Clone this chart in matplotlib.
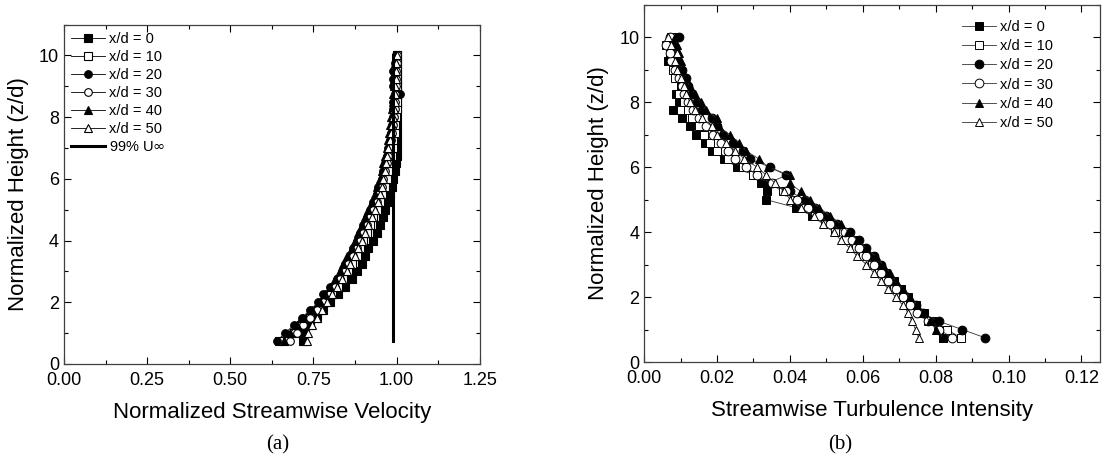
import matplotlib
matplotlib.use('Agg')
import matplotlib.pyplot as plt
from matplotlib.ticker import MultipleLocator

plt.rcParams['font.family'] = ['Liberation Sans', 'DejaVu Sans']

# heights z/d (same for every profile)
z = [0.75, 1.0, 1.25, 1.5, 1.75, 2.0, 2.25, 2.5, 2.75, 3.0, 3.25, 3.5, 3.75, 4.0,
     4.25, 4.5, 4.75, 5.0, 5.25, 5.5, 5.75, 6.0, 6.25, 6.5, 6.75, 7.0, 7.25, 7.5,
     7.75, 8.0, 8.25, 8.5, 8.75, 9.0, 9.25, 9.5, 9.75, 10.0]

labels = ['x/d = 0', 'x/d = 10', 'x/d = 20', 'x/d = 30', 'x/d = 40', 'x/d = 50']

# (a) normalized streamwise velocity
u_0 = [0.72, 0.72, 0.74, 0.76, 0.78, 0.80, 0.825, 0.845, 0.865, 0.88, 0.895, 0.905, 0.915, 0.93,
       0.94, 0.95, 0.96, 0.965, 0.975, 0.98, 0.985, 0.99, 0.995, 0.998, 1.0, 1.0, 1.0, 1.0,
       1.0, 1.0, 1.0, 1.0, 1.0, 1.0, 1.0, 1.0, 1.0, 1.0]
u_10 = [0.645, 0.69, 0.715, 0.74, 0.765, 0.785, 0.805, 0.825, 0.84, 0.855, 0.865, 0.88, 0.89, 0.90,
        0.91, 0.92, 0.93, 0.94, 0.95, 0.955, 0.965, 0.97, 0.975, 0.98, 0.985, 0.99, 0.99, 0.995,
        0.995, 0.998, 1.0, 1.0, 1.0, 1.0, 1.0, 1.0, 1.0, 1.0]
u_20 = [0.64, 0.665, 0.69, 0.715, 0.74, 0.765, 0.78, 0.80, 0.82, 0.835, 0.845, 0.86, 0.87, 0.88,
        0.89, 0.90, 0.91, 0.92, 0.93, 0.94, 0.945, 0.955, 0.96, 0.965, 0.97, 0.975, 0.98, 0.982,
        0.985, 0.988, 0.99, 0.99, 1.01, 0.99, 0.99, 0.99, 0.995, 0.998]
u_30 = [0.68, 0.70, 0.72, 0.74, 0.76, 0.78, 0.80, 0.815, 0.83, 0.845, 0.855, 0.87, 0.88, 0.89,
        0.90, 0.91, 0.92, 0.93, 0.94, 0.945, 0.955, 0.96, 0.965, 0.97, 0.975, 0.98, 0.984, 0.987,
        0.99, 0.992, 0.994, 0.995, 0.996, 0.997, 0.998, 0.999, 1.0, 1.0]
u_40 = [0.66, 0.68, 0.70, 0.72, 0.745, 0.77, 0.785, 0.80, 0.815, 0.83, 0.84, 0.85, 0.865, 0.875,
        0.885, 0.895, 0.905, 0.915, 0.925, 0.935, 0.94, 0.95, 0.955, 0.96, 0.965, 0.97, 0.975, 0.978,
        0.981, 0.984, 0.986, 0.988, 0.99, 0.992, 0.993, 0.995, 0.996, 0.997]
u_50 = [0.73, 0.735, 0.745, 0.76, 0.775, 0.79, 0.805, 0.82, 0.835, 0.85, 0.86, 0.875, 0.885, 0.895,
        0.905, 0.915, 0.925, 0.935, 0.945, 0.95, 0.955, 0.96, 0.965, 0.968, 0.97, 0.975, 0.98, 0.983,
        0.986, 0.99, 0.992, 0.994, 0.995, 0.996, 0.997, 0.998, 0.999, 1.0]
u99 = 0.99
u99_z = [0.75, 10.0]

# (b) streamwise turbulence intensity
ti_0 = [0.082, 0.0805, 0.079, 0.0767, 0.0745, 0.0725, 0.0705, 0.0685, 0.066, 0.064, 0.062, 0.060, 0.058, 0.0555,
        0.050, 0.046, 0.0417, 0.0334, 0.0336, 0.032, 0.030, 0.0255, 0.022, 0.0186, 0.0166, 0.0143, 0.0125, 0.0103,
        0.008, 0.0095, 0.0088, 0.010, 0.0095, 0.0085, 0.0066, 0.0075, 0.007, 0.008]
ti_10 = [0.087, 0.083, 0.078, 0.0755, 0.073, 0.071, 0.0685, 0.0665, 0.0645, 0.0625, 0.060, 0.058, 0.0555, 0.0525,
         0.0495, 0.047, 0.044, 0.0415, 0.038, 0.0345, 0.030, 0.027, 0.023, 0.020, 0.018, 0.0165, 0.015, 0.013,
         0.012, 0.011, 0.0095, 0.0105, 0.0085, 0.008, 0.0075, 0.007, 0.006, 0.0075]
ti_20 = [0.0935, 0.0873, 0.081, 0.0765, 0.0745, 0.072, 0.070, 0.068, 0.0665, 0.065, 0.063, 0.061, 0.059, 0.0565,
         0.053, 0.050, 0.047, 0.044, 0.040, 0.034, 0.039, 0.0345, 0.029, 0.027, 0.0245, 0.0215, 0.020, 0.0185,
         0.016, 0.0145, 0.013, 0.012, 0.0115, 0.0105, 0.009, 0.0085, 0.008, 0.0095]
ti_30 = [0.0845, 0.081, 0.078, 0.075, 0.073, 0.071, 0.069, 0.067, 0.065, 0.063, 0.061, 0.059, 0.057, 0.055,
         0.051, 0.048, 0.045, 0.042, 0.039, 0.035, 0.031, 0.028, 0.025, 0.023, 0.021, 0.019, 0.017, 0.015,
         0.0135, 0.012, 0.011, 0.0105, 0.0095, 0.0085, 0.0075, 0.007, 0.006, 0.007]
ti_40 = [0.082, 0.080, 0.0785, 0.0765, 0.075, 0.073, 0.071, 0.069, 0.0675, 0.0655, 0.0635, 0.061, 0.0585, 0.056,
         0.054, 0.051, 0.048, 0.0455, 0.043, 0.040, 0.040, 0.034, 0.0315, 0.028, 0.026, 0.0235, 0.0205, 0.020,
         0.017, 0.0155, 0.014, 0.0125, 0.0115, 0.0105, 0.010, 0.0095, 0.009, 0.0085]
ti_50 = [0.0753, 0.0745, 0.0735, 0.0725, 0.071, 0.069, 0.067, 0.065, 0.063, 0.061, 0.0585, 0.0565, 0.054, 0.052,
         0.049, 0.0465, 0.043, 0.040, 0.0385, 0.036, 0.0335, 0.031, 0.0275, 0.025, 0.0225, 0.020, 0.0185, 0.016,
         0.014, 0.0125, 0.0115, 0.011, 0.010, 0.009, 0.0085, 0.009, 0.0075, 0.0065]

markers = ['s', 's', 'o', 'o', '^', '^']
faces = ['black', 'white', 'black', 'white', 'black', 'white']


def style_axes(ax, xmax, xmaj, xmin, fmt):
    ax.set_xlim(0, xmax)
    ax.set_ylim(0, 11)
    ax.xaxis.set_major_locator(MultipleLocator(xmaj))
    ax.xaxis.set_minor_locator(MultipleLocator(xmin))
    ax.yaxis.set_major_locator(MultipleLocator(2))
    ax.yaxis.set_minor_locator(MultipleLocator(1))
    ax.xaxis.set_major_formatter(plt.FormatStrFormatter(fmt))
    ax.tick_params(which='both', direction='in', top=True, right=True, labelsize=13, width=0.8)
    ax.tick_params(which='major', length=5)
    ax.tick_params(which='minor', length=3)
    ax.tick_params(axis='x', pad=6)
    for s in ax.spines.values():
        s.set_linewidth(0.9)
        s.set_color('0.25')
    ax.set_ylabel('Normalized Height (z/d)', fontsize=16)


fig = plt.figure(figsize=(11.03, 4.63), dpi=100)

# panel (a)
ax1 = fig.add_axes([0.058, 0.214, 0.377, 0.733])
for vals, m, fc, lab in zip([u_0, u_10, u_20, u_30, u_40, u_50], markers, faces, labels):
    ax1.plot(vals, z, color='black', lw=0.6, marker=m, ms=5.5, mfc=fc, mec='black', mew=0.8, label=lab)
ax1.plot([u99, u99], u99_z, color='black', lw=2.2, label='99% U$\\infty$')
style_axes(ax1, 1.25, 0.25, 0.125, '%.2f')
ax1.set_xlabel('Normalized Streamwise Velocity', fontsize=16, labelpad=9)
ax1.yaxis.labelpad = 7
ax1.legend(loc='upper left', frameon=False, fontsize=10.5, handlelength=2.3, labelspacing=0.28,
           handletextpad=0.3, borderaxespad=0.3, borderpad=0.2)

# panel (b)
ax2 = fig.add_axes([0.584, 0.218, 0.413, 0.772])
for vals, m, fc, lab in zip([ti_0, ti_10, ti_20, ti_30, ti_40, ti_50], markers, faces, labels):
    ax2.plot(vals, z, color='0.2', lw=0.6, marker=m, ms=6.3, mfc=fc, mec='black', mew=0.7, label=lab)
style_axes(ax2, 0.125, 0.02, 0.01, '%.2f')
ax2.set_xlabel('Streamwise Turbulence Intensity', fontsize=16, labelpad=9)
ax2.yaxis.labelpad = 7
ax2.legend(loc='upper right', bbox_to_anchor=(0.92, 0.985), frameon=False, fontsize=10.5,
           handlelength=2.3, labelspacing=0.35, handletextpad=0.3, borderpad=0.2)

fig.text(0.252, 0.03, '(a)', fontsize=15, family=['Liberation Serif', 'DejaVu Serif'], ha='center')
fig.text(0.762, 0.03, '(b)', fontsize=15, family=['Liberation Serif', 'DejaVu Serif'], ha='center')

fig.savefig('out.png', dpi=100)
